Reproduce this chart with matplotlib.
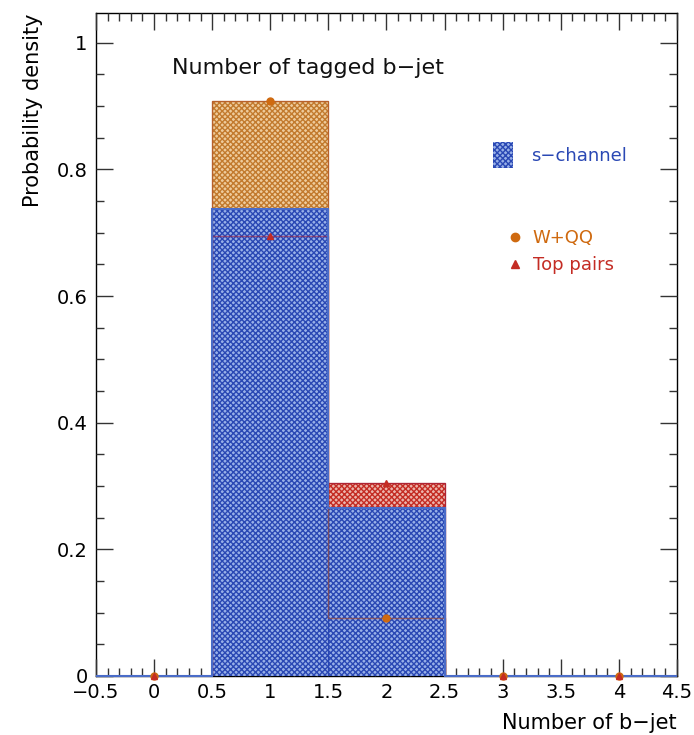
import numpy as np
import matplotlib
matplotlib.use('Agg')
import matplotlib.pyplot as plt
import matplotlib.patches as mpatches
from matplotlib.lines import Line2D
from matplotlib.ticker import MultipleLocator, FuncFormatter

# bin contents (bin centres 0..4)
n_bjet = [0, 1, 2, 3, 4]
s_channel = [0.0, 0.737, 0.265, 0.0, 0.0]
w_qq = [0.0, 0.908, 0.092, 0.0, 0.0]
top_pairs = [0.0, 0.695, 0.305, 0.0, 0.0]

BLUE = '#2a48b4'
BLUE_FACE = '#98b0e8'
ORANGE = '#c27a2e'
ORANGE_FACE = '#eecb9c'
MARK_ORANGE = '#cf6a10'
RED = '#c42c24'
RED_FACE = '#ecb4ac'

plt.rcParams['hatch.linewidth'] = 1.0
plt.rcParams['axes.unicode_minus'] = True

fig = plt.figure(figsize=(6.94, 7.35), dpi=100)
ax = fig.add_axes([0.1383, 0.0803, 0.8372, 0.902])

# backgrounds first, signal drawn over them
ax.bar(n_bjet, w_qq, width=1.0, facecolor=ORANGE_FACE, edgecolor=ORANGE,
       hatch='xxxxxx', linewidth=0.8, zorder=1)
ax.bar(n_bjet, top_pairs, width=1.0, facecolor=RED_FACE, edgecolor=RED,
       hatch='xxxxxx', linewidth=0.8, zorder=1.5)
ax.bar(n_bjet, s_channel, width=1.0, facecolor=BLUE_FACE, edgecolor=BLUE,
       hatch='xxxxxx', linewidth=0.8, zorder=2)

# histogram outlines
edges = np.arange(-0.5, 5.0, 1.0)
ax.stairs(w_qq, edges, color='#b0502a', linewidth=1.0, alpha=0.6, zorder=3)
ax.stairs(top_pairs, edges, color='#a02040', linewidth=1.0, alpha=0.6, zorder=3)
ax.stairs(s_channel, edges, color='#4a6cc8', linewidth=1.5, zorder=3.5,
          clip_on=False)

ax.plot(n_bjet, w_qq, 'o', color=MARK_ORANGE, markersize=5, zorder=4,
        clip_on=False)
ax.plot(n_bjet, top_pairs, '^', color=RED, markersize=5, zorder=4.5,
        clip_on=False)

ax.set_xlim(-0.5, 4.5)
ax.set_ylim(0, 1.047)

ax.xaxis.set_major_locator(MultipleLocator(0.5))
ax.xaxis.set_minor_locator(MultipleLocator(0.1))
ax.yaxis.set_major_locator(MultipleLocator(0.2))
ax.yaxis.set_minor_locator(MultipleLocator(0.05))
fmt = FuncFormatter(lambda v, p: ('%g' % round(v, 3)).replace('-', '\u2212'))
ax.xaxis.set_major_formatter(fmt)
ax.yaxis.set_major_formatter(fmt)
ax.tick_params(which='both', direction='in', top=True, right=True,
               labelsize=14, width=1.0, color='#333333')
ax.tick_params(which='major', length=12)
ax.tick_params(which='minor', length=6)
ax.tick_params(axis='x', pad=5)
ax.tick_params(axis='y', pad=6)
for s in ax.spines.values():
    s.set_linewidth(1.0)
    s.set_zorder(0.5)

ax.set_xlabel('Number of b\u2212jet', fontsize=15, loc='right', labelpad=8)
ax.set_ylabel('Probability density', fontsize=15, loc='top', labelpad=10)

ax.text(0.131, 0.917, 'Number of tagged b\u2212jet', transform=ax.transAxes,
        fontsize=16, ha='left', va='center', color='#111111')

# legend
h_sig = mpatches.Patch(facecolor=BLUE_FACE, edgecolor=BLUE, hatch='xxxxxx', linewidth=0)
leg1 = ax.legend([h_sig], ['s\u2212channel'], loc='center left',
                 bbox_to_anchor=(0.655, 0.786), frameon=False, fontsize=13,
                 handlelength=1.1, handleheight=1.8, handletextpad=1.0,
                 labelcolor=[BLUE])
ax.add_artist(leg1)
h_w = Line2D([], [], marker='o', color=MARK_ORANGE, linestyle='none', markersize=6)
h_t = Line2D([], [], marker='^', color=RED, linestyle='none', markersize=6)
ax.legend([h_w, h_t], ['W+QQ', 'Top pairs'], loc='center left',
          bbox_to_anchor=(0.68, 0.64), frameon=False, fontsize=13,
          handlelength=0.8, handletextpad=0.6, labelspacing=0.5,
          labelcolor=[MARK_ORANGE, RED])

fig.savefig('out.png', dpi=100)
